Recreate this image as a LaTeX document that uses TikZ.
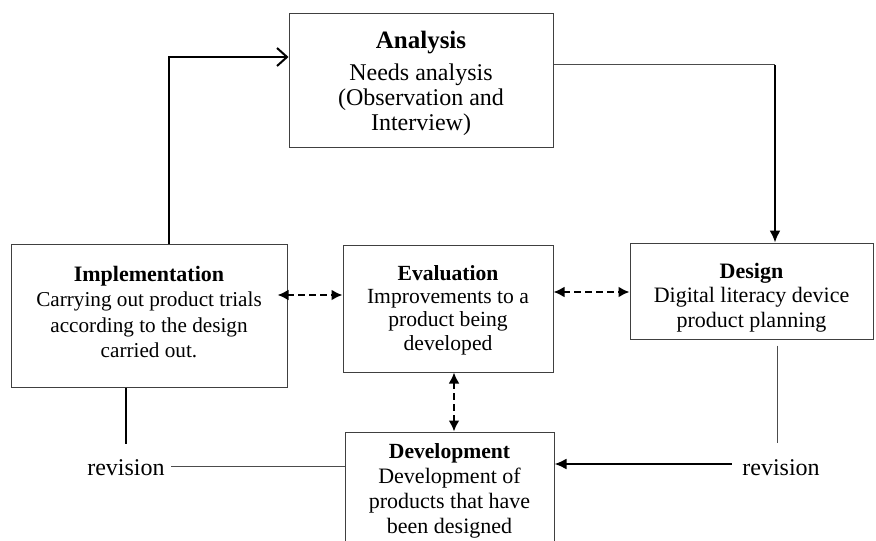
\documentclass[tikz,border=0pt]{standalone}
\usepackage{fontspec}
\setmainfont{Liberation Serif}
\usetikzlibrary{arrows.meta,calc}
\begin{document}
\begin{tikzpicture}[x=0.5pt,y=-0.5pt,
  box/.style={draw=black!75,line width=0.5pt,inner sep=0pt},
  txt/.style={align=center,inner sep=1pt},
  lbl/.style={font=\fontsize{12}{13}\selectfont,inner sep=3pt},
  thickline/.style={line width=1pt,black},
  thinline/.style={line width=0.5pt,black!70},
  openarrow/.style={-{Straight Barb[length=5pt,width=9pt,line width=1pt]}},
  fillarrow/.style={-{Latex[length=6pt,width=5.5pt]}},
  dasharrow/.style={line width=1.1pt,dash pattern=on 3.5pt off 2pt,
    {Latex[length=5.5pt,width=5.5pt]}-{Latex[length=5.5pt,width=5.5pt]}}
]
\useasboundingbox (0,0) rectangle (876,540);

% boxes
\node[box,minimum width=132pt,minimum height=66.5pt] (analysis) at (421,80.5) {};
\node[box,minimum width=138pt,minimum height=71.5pt] (impl) at (149,315.5) {};
\node[box,minimum width=105pt,minimum height=63.5pt] (eval) at (448,308.5) {};
\node[box,minimum width=121.5pt,minimum height=48pt] (design) at (751.5,291) {};
\node[box,minimum width=104.5pt,minimum height=58pt] (dev) at (449.5,490) {};

% box texts
\node[txt,font=\fontsize{12}{12.5}\selectfont] (analysistext) at (421,83)
  {{\fontsize{12.5}{13}\selectfont\textbf{Analysis}}\\[3.5pt]Needs analysis\\(Observation and\\Interview)};
\node[txt,font=\fontsize{10.6}{12.8}\selectfont] (impltext) at (149,312)
  {{\fontsize{11}{12.8}\selectfont\textbf{Implementation}}\\Carrying out product trials\\according to the design\\carried out.};
\node[txt,font=\fontsize{10.8}{11.7}\selectfont] (evaltext) at (448,310)
  {\textbf{Evaluation}\\Improvements to a\\product being\\developed};
\node[txt,font=\fontsize{11}{12.2}\selectfont] (designtext) at (751.5,297.5)
  {\textbf{Design}\\Digital literacy device\\product planning};
\node[txt,font=\fontsize{11}{12.5}\selectfont] (devtext) at (449.5,490.5)
  {{\fontsize{10.8}{12.5}\selectfont\textbf{Development}}\\Development of\\products that have\\been designed};

\node[lbl] (rev1) at (126,468) {revision};
\node[lbl] (rev2) at (781,468) {revision};

\coordinate (a1) at (169,57);
\coordinate (d1) at (775,65);
\coordinate (r1) at (126,444);
\coordinate (r2) at (777,443);
\coordinate (h1) at (0,295);
\coordinate (h2) at (0,292);
\coordinate (v1) at (454,0);

% Implementation -> Analysis
\draw[thickline,openarrow] (impl.north -| a1) -- (a1) -- (a1 -| analysis.west);
% Analysis -> Design
\draw[thinline] (d1 -| analysis.east) -- (d1);
\draw[thickline,fillarrow] (d1) -- (d1 |- design.north);
% dashed double arrows
\draw[dasharrow] ([xshift=-5pt]h1 -| impl.east) -- (h1 -| eval.west);
\draw[dasharrow] (h2 -| eval.east) -- (h2 -| design.west);
\draw[dasharrow] (v1 |- eval.south) -- (v1 |- dev.north);
% revision lines
\draw[thickline] (impl.south -| r1) -- (r1);
\draw[thinline] ([yshift=1pt]rev1.east) -- ([yshift=1pt]rev1.east -| dev.west);
\draw[thinline] ([yshift=-3pt]design.south -| r2) -- (r2);
\draw[thickline,fillarrow] ([xshift=-2pt,yshift=2pt]rev2.west) -- ([yshift=2pt]rev2.west -| dev.east);
\end{tikzpicture}
\end{document}
